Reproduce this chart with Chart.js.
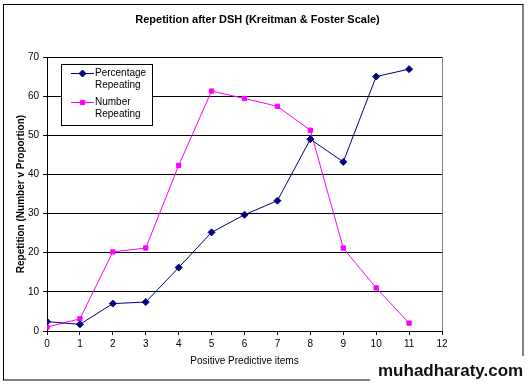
<!DOCTYPE html>
<html>
<head>
<meta charset="utf-8">
<script src="https://cdn.jsdelivr.net/npm/chart.js@4/dist/chart.umd.min.js"></script>
<style>
html,body{margin:0;padding:0;background:#fff;}
#wrap{position:relative;width:528px;height:384px;}
canvas{display:block;}
</style>
</head>
<body>
<div id="wrap"><canvas id="c" width="528" height="384"></canvas></div>
<script>
const items = [0, 1, 2, 3, 4, 5, 6, 7, 8, 9, 10, 11];
const percentageRepeating = [2.4, 1.7, 7.0, 7.4, 16.2, 25.2, 29.7, 33.3, 49.0, 43.2, 65.0, 66.9];
const numberRepeating = [1.0, 3.1, 20.2, 21.2, 42.3, 61.3, 59.4, 57.4, 51.3, 21.2, 11.0, 2.0];
const seriesNames = [["Percentage", "Repeating"], ["Number", "Repeating"]];
const chartTitle = "Repetition after DSH (Kreitman & Foster Scale)";
const xTitle = "Positive Predictive items";
const yTitle = "Repetition (Number v Proportion)";
const watermark = "muhadharaty.com";

const NAVY = "#000080", MAGENTA = "#FF00FF";

const framePlugin = {
  id: "frame",
  beforeDraw(chart) {
    const ctx = chart.ctx;
    ctx.save();
    ctx.fillStyle = "#fff";
    ctx.fillRect(0, 0, chart.width, chart.height);
    ctx.strokeStyle = "#000";
    ctx.lineWidth = 1;
    ctx.strokeRect(3.5, 4.5, 519.5, 375.5);
    // chart title
    ctx.fillStyle = "#000";
    ctx.font = "bold 11px Arial, 'Liberation Sans'";
    ctx.textAlign = "center";
    ctx.textBaseline = "middle";
    ctx.fillText(chartTitle, 257.5, 20);
    ctx.restore();
  },
  afterDatasetsDraw(chart) {
    const ctx = chart.ctx;
    const a = chart.chartArea;
    ctx.save();
    // right border of plot area (gray)
    ctx.strokeStyle = "#808080";
    ctx.lineWidth = 1;
    ctx.beginPath();
    ctx.moveTo(Math.round(a.right) + 0.5, a.top);
    ctx.lineTo(Math.round(a.right) + 0.5, a.bottom);
    ctx.stroke();
    // legend
    const lx = 61.5, ly = 64.5, lw = 91, lh = 61;
    ctx.fillStyle = "#fff";
    ctx.fillRect(lx, ly, lw, lh);
    ctx.strokeStyle = "#000";
    ctx.strokeRect(lx, ly, lw, lh);
    const entries = [
      {names: seriesNames[0], color: NAVY, style: "rectRot", r: 3.5, y: 73},
      {names: seriesNames[1], color: MAGENTA, style: "rect", r: 3, y: 102}
    ];
    ctx.font = "10px Arial, 'Liberation Sans'";
    ctx.textBaseline = "middle";
    ctx.textAlign = "left";
    entries.forEach(e => {
      ctx.strokeStyle = e.color;
      ctx.lineWidth = 1;
      ctx.beginPath();
      ctx.moveTo(71, e.y + 0.5);
      ctx.lineTo(94, e.y + 0.5);
      ctx.stroke();
      ctx.fillStyle = e.color;
      Chart.helpers.drawPoint(ctx, {pointStyle: e.style, radius: e.r, borderWidth: 1}, 82.5, e.y + 0.5);
      ctx.fillStyle = "#000";
      ctx.fillText(e.names[0], 95, e.y);
      ctx.fillText(e.names[1], 95, e.y + 12.5);
    });
    // watermark
    ctx.fillStyle = "#fff";
    ctx.fillRect(370, 356, 158, 28);
    ctx.fillStyle = "#111";
    ctx.font = "bold 17px Arial, 'Liberation Sans'";
    ctx.textBaseline = "alphabetic";
    ctx.textAlign = "left";
    ctx.fillText(watermark, 378, 376);
    ctx.restore();
  }
};

new Chart(document.getElementById("c"), {
  type: "line",
  data: {
    datasets: [
      {
        label: seriesNames[0].join(" "),
        data: items.map((x, i) => ({x: x, y: percentageRepeating[i]})),
        borderColor: NAVY,
        backgroundColor: NAVY,
        borderWidth: 1,
        pointStyle: "rectRot",
        pointRadius: 3.5,
        pointBorderWidth: 1,
        tension: 0
      },
      {
        label: seriesNames[1].join(" "),
        data: items.map((x, i) => ({x: x, y: numberRepeating[i]})),
        borderColor: MAGENTA,
        backgroundColor: MAGENTA,
        borderWidth: 1,
        pointStyle: "rect",
        pointRadius: 3,
        pointBorderWidth: 1,
        tension: 0
      }
    ]
  },
  options: {
    responsive: false,
    animation: false,
    devicePixelRatio: 1,
    layout: {padding: {left: 4, top: 57, right: 86, bottom: 4}},
    plugins: {
      legend: {display: false},
      tooltip: {enabled: false},
      title: {display: false}
    },
    scales: {
      x: {
        type: "linear",
        min: 0, max: 12,
        afterFit(s) { s.height = 49; },
        ticks: {stepSize: 1, color: "#000", padding: 3, maxRotation: 0,
          font: {family: "Arial, 'Liberation Sans'", size: 10}},
        grid: {drawOnChartArea: false, drawTicks: true, tickLength: 4, color: "#000"},
        border: {color: "#000", width: 1},
        title: {display: true, text: xTitle, color: "#000",
          font: {family: "Arial, 'Liberation Sans'", size: 10, lineHeight: 1.2},
          padding: {top: 0, bottom: 13}}
      },
      y: {
        min: 0, max: 70,
        afterFit(s) { s.width = 43; },
        ticks: {stepSize: 10, color: "#000", padding: 4,
          font: {family: "Arial, 'Liberation Sans'", size: 10}},
        grid: {color: "#000", lineWidth: 1, tickLength: 4, drawTicks: true},
        border: {color: "#000", width: 1},
        title: {display: true, text: yTitle, color: "#000",
          font: {family: "Arial, 'Liberation Sans'", size: 10, weight: "bold", lineHeight: 1.2},
          padding: {top: 11, bottom: 0}}
      }
    }
  },
  plugins: [framePlugin]
});
</script>
</body>
</html>
